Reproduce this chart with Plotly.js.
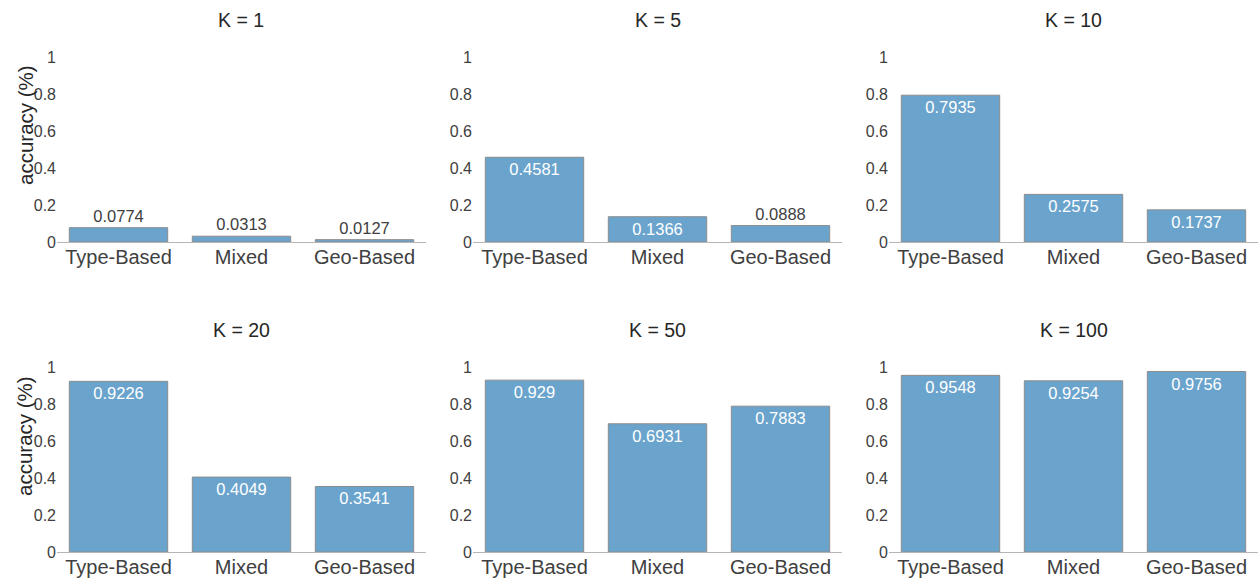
<!DOCTYPE html>
<html>
<head>
<meta charset="utf-8">
<script src="https://cdn.plot.ly/plotly-3.0.1.min.js"></script>
<style>
  html, body { margin: 0; padding: 0; background: #fff; }
  #chart { width: 1258px; height: 580px; }
</style>
</head>
<body>
<div id="chart"></div>
<script>
// Retrieval accuracy per partitioning strategy, one panel per K
const categories = ['Type-Based', 'Mixed', 'Geo-Based'];
const kValues = [1, 5, 10, 20, 50, 100];
const accK1 = [0.0774, 0.0313, 0.0127];
const accK5 = [0.4581, 0.1366, 0.0888];
const accK10 = [0.7935, 0.2575, 0.1737];
const accK20 = [0.9226, 0.4049, 0.3541];
const accK50 = [0.929, 0.6931, 0.7883];
const accK100 = [0.9548, 0.9254, 0.9756];
const yTickValues = [0, 0.2, 0.4, 0.6, 0.8, 1];
const yTickLabels = ['0', '0.2', '0.4', '0.6', '0.8', '1'];
const yLabel = 'accuracy (%)';

const series = [accK1, accK5, accK10, accK20, accK50, accK100];

const W = 1258, H = 580;
const FONT = 'Liberation Sans, Arial, sans-serif';
const TEXT = '#404040';
const BAR = '#6aa4cd';

// panel geometry in pixels: columns (left, right), rows (bottom, top)
const cols = [[57, 426], [473, 842], [889, 1258]];
const rows = [[242, 57], [552, 367]];
const titleY = [20, 330];
const yLabelY = [125, 436];

const traces = [];
const layout = {
  width: W, height: H,
  margin: {l: 0, r: 0, t: 0, b: 0},
  paper_bgcolor: '#fff', plot_bgcolor: '#fff',
  showlegend: false,
  bargap: 0.2,
  font: {family: FONT, color: TEXT},
  annotations: []
};

series.forEach((vals, i) => {
  const r = Math.floor(i / 3), c = i % 3;
  const n = i + 1;
  const sfx = n === 1 ? '' : String(n);
  const xd = [cols[c][0] / W, cols[c][1] / W];
  const yd = [(H - rows[r][0]) / H, (H - rows[r][1]) / H];

  traces.push({
    type: 'bar',
    x: categories,
    y: vals,
    xaxis: 'x' + sfx,
    yaxis: 'y' + sfx,
    marker: {color: BAR, line: {color: '#8c8c8c', width: 1}},
    text: vals.map(v => String(v)),
    textposition: vals.map(v => v < 0.1 ? 'outside' : 'inside'),
    insidetextanchor: 'end',
    insidetextfont: {family: FONT, size: 16.5, color: '#ffffff'},
    outsidetextfont: {family: FONT, size: 16.5, color: TEXT},
    textangle: 0,
    constraintext: 'none',
    cliponaxis: false,
    hoverinfo: 'none'
  });

  layout['xaxis' + sfx] = {
    domain: xd,
    anchor: 'y' + sfx,
    type: 'category',
    range: [-0.5, 2.5],
    showline: true, linecolor: '#b5b5b5', linewidth: 1,
    showgrid: false, zeroline: false, ticks: '',
    ticklabelstandoff: -3,
    tickfont: {family: FONT, size: 20, color: TEXT},
    fixedrange: true
  };
  layout['yaxis' + sfx] = {
    domain: yd,
    anchor: 'x' + sfx,
    range: [0, 1],
    tickmode: 'array',
    tickvals: yTickValues,
    ticktext: yTickLabels,
    showline: false, showgrid: false, zeroline: false, ticks: '',
    tickfont: {family: FONT, size: 16, color: TEXT},
    fixedrange: true
  };

  if (c === 0) {
    layout.annotations.push({
      text: yLabel,
      xref: 'paper', yref: 'paper',
      x: 25 / W, y: (H - yLabelY[r]) / H,
      xanchor: 'center', yanchor: 'middle',
      textangle: -90,
      showarrow: false,
      font: {family: FONT, size: 20.5, color: '#262626'}
    });
  }

  layout.annotations.push({
    text: 'K = ' + kValues[i],
    xref: 'paper', yref: 'paper',
    x: (xd[0] + xd[1]) / 2,
    y: (H - titleY[r]) / H,
    xanchor: 'center', yanchor: 'middle',
    showarrow: false,
    font: {family: FONT, size: 19.5, color: '#262626'}
  });
});

Plotly.newPlot('chart', traces, layout, {displayModeBar: false, staticPlot: true});
</script>
</body>
</html>
